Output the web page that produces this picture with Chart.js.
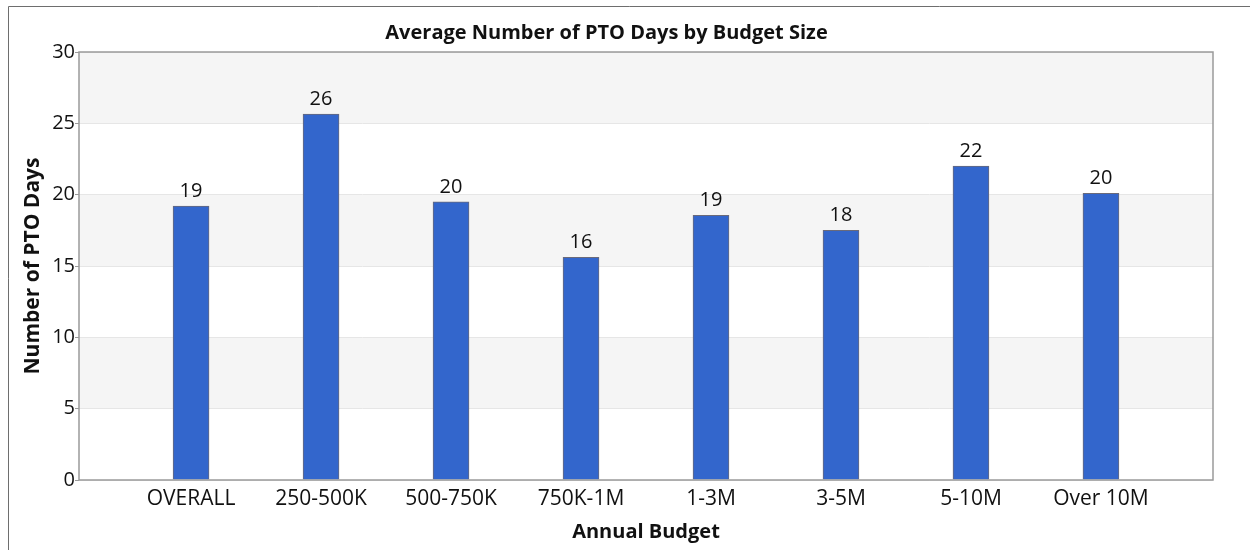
<!DOCTYPE html>
<html>
<head>
<meta charset="utf-8">
<script src="https://cdn.jsdelivr.net/npm/chart.js@4"></script>
<style>
  body { margin: 0; background: #fff; }
  #wrap { width: 1250px; height: 550px; position: relative; }
</style>
</head>
<body>
<div id="wrap"><canvas id="myChart" width="1250" height="550"></canvas></div>
<script>
// categories and values
const budgets = ["OVERALL", "250-500K", "500-750K", "750K-1M", "1-3M", "3-5M", "5-10M", "Over 10M"];
const ptoDays = [19.2, 25.65, 19.5, 15.6, 18.55, 17.5, 22.0, 20.1];
const yTicks = [0, 5, 10, 15, 20, 25, 30];

const fontName = "'Open Sans', sans-serif";

// gray bands behind the bars, every other 5 days
const bands = {
    id: "bands",
    beforeDraw(chart) {
        const { ctx, chartArea: a, scales: { y } } = chart;
        ctx.save();
        // outer frame of the picture
        ctx.strokeStyle = "#6e6e6e";
        ctx.lineWidth = 1;
        ctx.beginPath();
        ctx.moveTo(8.5, 550);
        ctx.lineTo(8.5, 6.5);
        ctx.lineTo(1250, 6.5);
        ctx.stroke();
        ctx.fillStyle = "#f5f5f5";
        for (let v = 5; v < 30; v += 10) {
            const top = y.getPixelForValue(v + 5);
            const bot = y.getPixelForValue(v);
            ctx.fillRect(a.left, top, a.right - a.left, bot - top);
        }
        ctx.restore();
    },
    afterDatasetsDraw(chart) {
        const { ctx, chartArea: a } = chart;
        ctx.save();
        ctx.strokeStyle = "#9a9a9a";
        ctx.lineWidth = 1.5;
        ctx.strokeRect(a.left, a.top, a.right - a.left, a.bottom - a.top);
        // value labels on top of the bars
        const meta = chart.getDatasetMeta(0);
        ctx.fillStyle = "#111";
        ctx.font = "20px " + fontName;
        ctx.textAlign = "center";
        ctx.textBaseline = "bottom";
        meta.data.forEach((bar, i) => {
            ctx.fillText(Math.round(ptoDays[i]), bar.x, bar.y - 5);
        });
        ctx.restore();
    }
};

new Chart(document.getElementById("myChart"), {
    type: "bar",
    data: {
        datasets: [{
            data: ptoDays.map((v, i) => ({ x: i, y: v })),
            backgroundColor: "#3366cc",
            borderColor: "#6a6a7a",
            borderWidth: 1,
            barThickness: 36,
        }]
    },
    options: {
        responsive: false,
        animation: false,
        layout: { padding: { left: 0, right: 37, top: 0, bottom: 0 } },
        plugins: {
            legend: { display: false },
            tooltip: { enabled: false },
            title: {
                display: true,
                text: "Average Number of PTO Days by Budget Size",
                color: "#111",
                font: { family: fontName, size: 20, weight: "bold" },
                padding: { top: 21, bottom: 7 },
            }
        },
        scales: {
            x: {
                type: "linear",
                offset: false,
                min: -0.862,
                max: 7.862,
                afterBuildTicks: (s) => { s.ticks = budgets.map((c, i) => ({ value: i })); },
                afterFit: (s) => { s.height = 70; },
                grid: { display: false },
                border: { display: false },
                ticks: {
                    color: "#111",
                    font: { family: fontName, size: 21 },
                    padding: -2,
                    maxRotation: 0,
                    autoSkip: false,
                    callback: (v) => budgets[v],
                },
                title: {
                    display: true,
                    text: "Annual Budget",
                    color: "#111",
                    font: { family: fontName, size: 20, weight: "bold" },
                    padding: { top: 6, bottom: 6 },
                }
            },
            y: {
                min: 0,
                max: 30,
                afterBuildTicks: (s) => { s.ticks = yTicks.map(v => ({ value: v })); },
                afterFit: (s) => { s.width = 79; },
                grid: { color: "#e6e6e6", tickColor: "#9a9a9a", tickLength: 4 },
                border: { display: false },
                ticks: {
                    color: "#111",
                    font: { family: fontName, size: 20 },
                    padding: 0,
                },
                title: {
                    display: true,
                    text: "Number of PTO Days",
                    color: "#111",
                    font: { family: fontName, size: 21, weight: "bold" },
                    padding: { top: 20, bottom: 20 },
                }
            }
        }
    },
    plugins: [bands]
});
</script>
</body>
</html>
